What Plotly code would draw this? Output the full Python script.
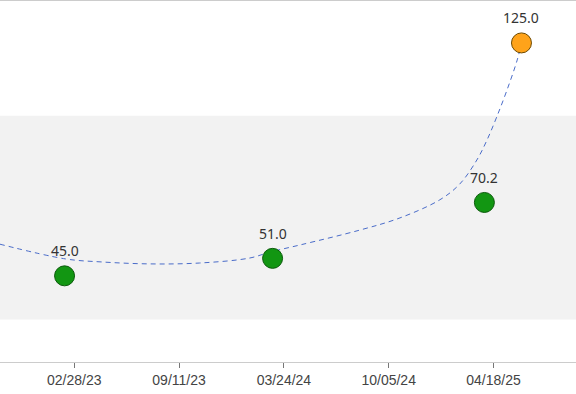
import plotly.graph_objects as go

# Observed values
obs_dates = ["2023-02-10", "2024-03-03", "2025-04-01"]
obs_values = [45.0, 51.0, 70.2]

# Forecast / highlighted value
fc_dates = ["2025-06-09"]
fc_values = [125.0]

# Trend curve
trend_dates = ["2022-10-12", "2023-02-12", "2023-04-17", "2023-07-18", "2023-10-19",
               "2024-01-20", "2024-02-28", "2024-04-23", "2024-08-12", "2024-10-26",
               "2025-01-08", "2025-02-14", "2025-03-18", "2025-04-06", "2025-04-24",
               "2025-05-13", "2025-06-01", "2025-06-09"]
trend_values = [55.9, 50.8, 49.8, 49.1, 49.4,
                51.1, 53.2, 55.6, 60.7, 64.9,
                71.1, 76.5, 84.8, 91.7, 99.6,
                108.8, 119.1, 125.0]

# Reference band
band_low, band_high = 30, 100

tick_dates = ["2023-02-28", "2023-09-11", "2024-03-24", "2024-10-05", "2025-04-18"]
tick_labels = ["02/28/23", "09/11/23", "03/24/24", "10/05/24", "04/18/25"]

fig = go.Figure()

fig.add_shape(type="rect", xref="paper", x0=0, x1=1, yref="y", y0=band_low, y1=band_high,
              fillcolor="#f2f2f2", line=dict(width=0), layer="below")

fig.add_trace(go.Scatter(
    x=trend_dates, y=trend_values, mode="lines", line_shape="spline",
    line=dict(color="#4a6cc9", width=1, dash="5px,4px"),
    hoverinfo="skip", showlegend=False))

label_font = dict(family="Noto Sans, Open Sans, sans-serif", size=14, color="#333333")

fig.add_trace(go.Scatter(
    x=obs_dates, y=obs_values, mode="markers",
    marker=dict(size=20, color="#129612", line=dict(color="#0b5a0b", width=1)),
    showlegend=False, cliponaxis=False))

fig.add_trace(go.Scatter(
    x=fc_dates, y=fc_values, mode="markers",
    marker=dict(size=20, color="#ffa31a", line=dict(color="#6e4a00", width=1)),
    showlegend=False, cliponaxis=False))

for d, v in zip(obs_dates + fc_dates, obs_values + fc_values):
    fig.add_annotation(x=d, y=v, text=f"{v:.1f}", showarrow=False,
                       yshift=25, font=label_font)

fig.update_layout(
    width=576, height=394,
    margin=dict(l=0, r=0, t=1, b=32),
    paper_bgcolor="white", plot_bgcolor="white",
    xaxis=dict(
        type="date", range=["2022-10-12 22:00", "2025-09-18 10:00"],
        tickvals=tick_dates, ticktext=tick_labels,
        ticks="outside", ticklen=5, tickcolor="#777777", tickwidth=1,
        showline=True, linecolor="#cccccc", linewidth=1, mirror=True,
        showgrid=False, zeroline=False,
        tickfont=dict(family="Liberation Sans, Arial, sans-serif", size=14, color="#444444"),
    ),
    yaxis=dict(
        range=[15.4, 139.4], showgrid=False, zeroline=False,
        showticklabels=False, ticks="", showline=False,
    ),
)

fig.write_html("out.html", config={"displayModeBar": False},
               post_script="document.body.style.margin='0';")
